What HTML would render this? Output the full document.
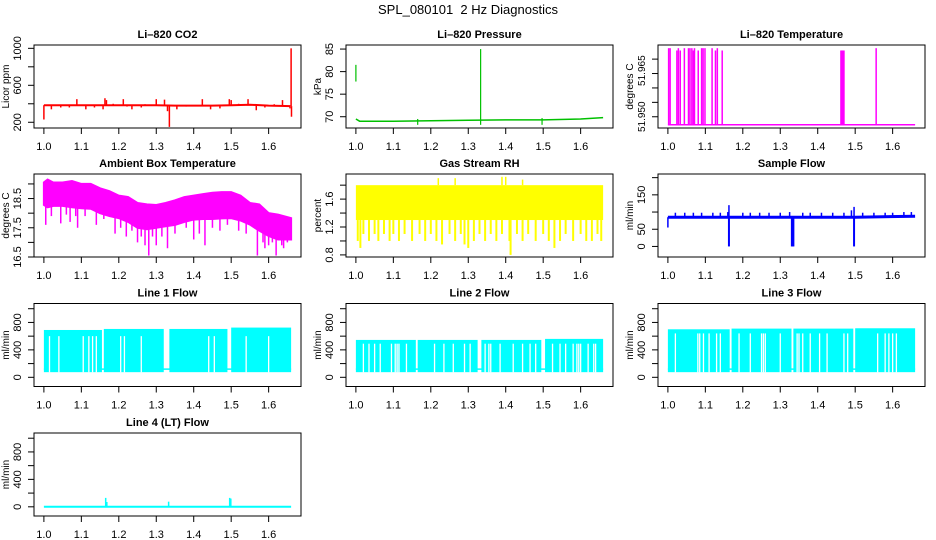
<!DOCTYPE html>
<html><head><meta charset="utf-8"><style>
html,body{margin:0;padding:0;background:#fff;}
svg{display:block;font-family:"Liberation Sans",Arial,sans-serif;}
</style></head><body>
<svg id="chart" width="936" height="540" viewBox="0 0 936 540" xmlns="http://www.w3.org/2000/svg">
<rect x="0" y="0" width="936" height="540" fill="#fff"/>
<text x="468" y="14" text-anchor="middle" font-size="13">SPL_080101&#160; 2 Hz Diagnostics</text>
</svg>
<script>
// ---------- data ----------
const xTicks = [1.0,1.1,1.2,1.3,1.4,1.5,1.6];
const xTickLabels = ["1.0","1.1","1.2","1.3","1.4","1.5","1.6"];

const co2BaseX = [1.0,1.05,1.1,1.15,1.2,1.25,1.3,1.35,1.4,1.45,1.5,1.55,1.6,1.658];
const co2BaseY = [385,385,385,385,385,385,385,380,380,380,385,390,380,375];
const co2SpikeX = [1.0,1.02,1.045,1.068,1.088,1.112,1.135,1.158,1.163,1.167,1.185,1.212,1.222,1.235,1.26,1.27,1.3,1.322,1.33,1.335,1.355,1.38,1.423,1.445,1.47,1.495,1.5,1.52,1.545,1.567,1.59,1.615,1.637,1.657,1.66,1.661];
const co2SpikeY = [230,340,360,360,450,340,360,340,460,440,400,450,370,340,360,395,450,445,320,150,340,370,450,340,350,450,440,400,450,330,360,395,440,350,1000,260];

const presBaseX = [1.0,1.01,1.1,1.2,1.3,1.4,1.5,1.6,1.66];
const presBaseY = [69.5,69.0,69.0,69.1,69.2,69.3,69.3,69.5,69.8];
const presSegX = [1.0,1.165,1.333,1.497];
const presSegLo = [77.8,68.2,68.2,68.2];
const presSegHi = [81.5,69.5,85.0,69.7];

const tempBase = 51.9472;
const tempSpikeX = [1.002,1.006,1.024,1.028,1.033,1.044,1.055,1.059,1.064,1.068,1.071,1.081,1.090,1.094,1.099,1.118,1.127,1.132,1.145,1.462,1.464,1.466,1.468,1.470,1.556];
const tempSpikeY = [51.9738,51.9738,51.973,51.9738,51.973,51.9738,51.9738,51.9738,51.9738,51.973,51.9738,51.973,51.9738,51.9738,51.9738,51.9738,51.973,51.9738,51.973,51.973,51.973,51.973,51.973,51.973,51.9738];

const ambX = [1.0,1.01,1.025,1.05,1.075,1.1,1.125,1.15,1.175,1.2,1.225,1.25,1.275,1.3,1.325,1.35,1.375,1.4,1.425,1.45,1.475,1.5,1.525,1.55,1.575,1.6,1.625,1.66];
const ambHi = [19.05,19.15,19.05,19.05,19.1,19.0,19.0,18.85,18.75,18.6,18.55,18.35,18.3,18.28,18.35,18.44,18.55,18.6,18.65,18.7,18.72,18.72,18.6,18.35,18.3,18.0,17.95,17.83];
const ambLo = [18.28,18.2,18.25,18.25,18.2,18.17,18.15,18.0,17.9,17.83,17.7,17.5,17.45,17.5,17.55,17.6,17.7,17.78,17.8,17.8,17.82,17.83,17.75,17.61,17.4,17.22,17.1,17.1];
const ambDipX = [1.005,1.02,1.045,1.06,1.07,1.085,1.09,1.11,1.14,1.16,1.19,1.205,1.22,1.235,1.25,1.26,1.27,1.28,1.29,1.3,1.315,1.33,1.35,1.38,1.4,1.415,1.43,1.45,1.47,1.49,1.52,1.54,1.57,1.585,1.59,1.6,1.61,1.62,1.635,1.64,1.65];
const ambDipY = [17.6,17.9,17.65,17.95,17.7,17.9,17.5,17.9,17.6,17.8,17.3,17.5,17.2,17.4,17.0,17.2,16.9,16.55,17.2,16.9,17.2,16.8,17.3,17.5,17.1,17.3,16.9,17.5,17.4,17.6,17.4,17.3,16.55,17.0,16.8,16.9,17.0,16.55,16.9,16.8,17.0];

const rhHi = 1.8;
const rhLo = 1.3;
const rhDipX = [1.005,1.012,1.02,1.035,1.05,1.06,1.075,1.09,1.1,1.115,1.13,1.15,1.17,1.185,1.2,1.215,1.23,1.25,1.265,1.28,1.29,1.3,1.315,1.33,1.345,1.36,1.375,1.39,1.41,1.413,1.43,1.445,1.46,1.48,1.5,1.515,1.53,1.545,1.56,1.58,1.6,1.615,1.63,1.645,1.655];
const rhDipY = [1.0,0.9,1.1,1.0,1.1,1.0,1.1,1.0,1.1,1.0,1.1,1.0,1.1,1.0,1.1,1.0,0.95,1.1,1.0,1.1,0.95,0.9,1.0,1.1,1.0,1.1,1.0,1.1,1.0,0.8,1.1,1.0,1.1,1.0,1.1,1.0,0.9,1.0,1.1,1.0,1.1,1.0,1.0,1.1,1.0];
const rhUpX = [1.22,1.265,1.39,1.4,1.445];
const rhUpY = [1.9,1.9,1.92,1.92,1.88];

const flowBaseX = [1.0,1.16,1.165,1.33,1.335,1.495,1.5,1.66];
const flowBaseY = [85,85,85,85,85,85,85,88];
const flowSpikeX = [1.0,1.02,1.045,1.068,1.09,1.12,1.14,1.16,1.163,1.2,1.22,1.245,1.27,1.3,1.325,1.333,1.36,1.38,1.41,1.44,1.47,1.49,1.497,1.52,1.55,1.58,1.6,1.63,1.65];
const flowSpikeY = [55,98,98,98,98,98,98,100,120,98,98,98,98,98,100,0,98,98,98,98,98,105,115,98,98,98,98,100,100];
const flowDropX = [1.163,1.331,1.333,1.335,1.497];
const flowDropY = [0,0,0,0,0];

const line1Start = [1.0,1.16,1.335,1.5];
const line1End = [1.155,1.32,1.49,1.66];
const line1Top = [690,705,705,725];
const line1Gaps = [1.015,1.04,1.105,1.12,1.13,1.14,1.205,1.215,1.26,1.44,1.455,1.54,1.6];
const line2Start = [1.0,1.165,1.335,1.505];
const line2End = [1.16,1.325,1.495,1.66];
const line2Top = [545,545,545,560];
const line2Gaps = [1.02,1.035,1.05,1.065,1.095,1.105,1.11,1.115,1.135,1.21,1.235,1.26,1.29,1.305,1.345,1.355,1.36,1.385,1.42,1.445,1.465,1.48,1.525,1.545,1.56,1.58,1.59,1.595,1.6,1.62,1.635,1.64];
const line3Start = [1.0,1.17,1.335,1.5];
const line3End = [1.165,1.33,1.495,1.66];
const line3Top = [700,710,710,715];
const line3Gaps = [1.02,1.08,1.085,1.095,1.11,1.13,1.14,1.19,1.22,1.25,1.255,1.26,1.3,1.345,1.35,1.36,1.38,1.405,1.425,1.47,1.48,1.56,1.58,1.59,1.6,1.61];
const line4SpikeX = [1.165,1.168,1.333,1.496,1.499];
const line4SpikeY = [130,70,75,130,120];

// ---------- layout ----------
const svg = document.getElementById('chart');
const NS = 'http://www.w3.org/2000/svg';
const colLeft = [34,346,658], rowTop = [45,174,303.5,433];
const BW = 267, BH = 83, XMIN = 0.9736, XMAX = 1.6864;

function el(tag, attrs, parent, name, inter) {
  const e = document.createElementNS(NS, tag);
  for (const k in attrs) e.setAttribute(k, attrs[k]);
  
  
  (parent || svg).appendChild(e);
  return e;
}

function panel(cfg) {
  const L = colLeft[cfg.col], T = rowTop[cfg.row];
  const g = el('g', {}, svg, cfg.id + '-panel', false);
  const sx = v => L + (v - XMIN) / (XMAX - XMIN) * BW;
  const sy = v => T + BH - (v - cfg.ymin) / (cfg.ymax - cfg.ymin) * BH;
  const clipId = 'clip-' + cfg.id;
  const defs = el('defs', {}, g, cfg.id + '-defs', false);
  const cp = el('clipPath', {id: clipId}, defs, cfg.id + '-clip', false);
  el('rect', {x: L, y: T, width: BW, height: BH}, cp, cfg.id + '-clip-rect', false);
  const plot = el('g', {'clip-path': 'url(#' + clipId + ')'}, g, cfg.id + '-plot-area', false);
  cfg.draw(plot, sx, sy);
  el('rect', {x: L, y: T, width: BW, height: BH, fill: 'none', stroke: '#000', 'stroke-width': 1}, g, cfg.id + '-frame', false);
  el('text', {x: L + BW / 2, y: T - 7, 'text-anchor': 'middle', 'font-size': 11, 'font-weight': 'bold'}, g, cfg.id + '-title', false).textContent = cfg.title;
  const xa = el('g', {}, g, cfg.id + '-x-axis', false);
  el('line', {x1: sx(xTicks[0]), x2: sx(xTicks[xTicks.length - 1]), y1: T + BH, y2: T + BH, stroke: '#000'}, xa, 'x-axis-line', false);
  xTicks.forEach((t, i) => {
    el('line', {x1: sx(t), x2: sx(t), y1: T + BH, y2: T + BH + 6, stroke: '#000'}, xa, 'x-tick', false);
    el('text', {x: sx(t), y: T + BH + 22, 'text-anchor': 'middle', 'font-size': 11}, xa, 'x-tick-label', false).textContent = xTickLabels[i];
  });
  const ya = el('g', {}, g, cfg.id + '-y-axis', false);
  el('line', {x1: L, x2: L, y1: sy(cfg.yticks[0]), y2: sy(cfg.yticks[cfg.yticks.length - 1]), stroke: '#000'}, ya, 'y-axis-line', false);
  cfg.yticks.forEach(t => {
    el('line', {x1: L - 6, x2: L, y1: sy(t), y2: sy(t), stroke: '#000'}, ya, 'y-tick', false);
  });
  const fs = cfg.labelSize || 11;
  cfg.ylabelVals.forEach((t, i) => {
    const yy = sy(t), xx = L - 13;
    el('text', {x: xx, y: yy, 'text-anchor': 'middle', 'font-size': fs, transform: 'rotate(-90 ' + xx + ' ' + yy + ')'}, ya, 'y-tick-label', false).textContent = cfg.ylabelText[i];
  });
  const yx = L - 25, yy = T + BH / 2;
  el('text', {x: yx, y: yy, 'text-anchor': 'middle', 'font-size': 10, transform: 'rotate(-90 ' + yx + ' ' + yy + ')'}, g, cfg.id + '-y-axis-title', false).textContent = cfg.ylab;
}

function polyline(parent, xs, ys, sx, sy, color, name, w) {
  const pts = xs.map((x, i) => sx(x).toFixed(1) + ',' + sy(ys[i]).toFixed(1)).join(' ');
  el('polyline', {points: pts, fill: 'none', stroke: color, 'stroke-width': w || 1.5}, parent, name, false);
}
function seg(parent, x, y0, y1, sx, sy, color, name, w) {
  el('line', {x1: sx(x), x2: sx(x), y1: sy(y0), y2: sy(y1), stroke: color, 'stroke-width': w || 1.5}, parent, name, false);
}
function baseAt(xs, ys, x) {
  for (let i = 0; i < xs.length - 1; i++) if (x >= xs[i] && x <= xs[i + 1]) return ys[i] + (ys[i + 1] - ys[i]) * (x - xs[i]) / (xs[i + 1] - xs[i]);
  return ys[ys.length - 1];
}

panel({id: 'co2', col: 0, row: 0, title: 'Li–820 CO2', ylab: 'Licor ppm', ymin: 138, ymax: 1036,
  yticks: [200,400,600,800,1000], ylabelVals: [200,600,1000], ylabelText: ['200','600','1000'],
  draw: (p, sx, sy) => {
    polyline(p, co2BaseX, co2BaseY, sx, sy, '#ff0000', 'co2-line', 2);
    co2SpikeX.forEach((x, i) => seg(p, x, baseAt(co2BaseX, co2BaseY, x), co2SpikeY[i], sx, sy, '#ff0000', 'co2-spike', 1.5));
  }});

panel({id: 'pressure', col: 1, row: 0, title: 'Li–820 Pressure', ylab: 'kPa', ymin: 67.5, ymax: 85.9,
  yticks: [70,75,80,85], ylabelVals: [70,75,80,85], ylabelText: ['70','75','80','85'],
  draw: (p, sx, sy) => {
    polyline(p, presBaseX, presBaseY, sx, sy, '#00c000', 'pressure-line', 1.5);
    presSegX.forEach((x, i) => seg(p, x, presSegLo[i], presSegHi[i], sx, sy, '#00c000', 'pressure-spike', 1.2));
  }});

panel({id: 'licor-temp', col: 2, row: 0, title: 'Li–820 Temperature', ylab: 'degrees C', ymin: 51.9461, ymax: 51.9749, labelSize: 10,
  yticks: [51.950,51.955,51.960,51.965,51.970], ylabelVals: [51.950,51.966], ylabelText: ['51.950','51.965'],
  draw: (p, sx, sy) => {
    polyline(p, [1.0,1.66], [tempBase,tempBase], sx, sy, '#ff00ff', 'temp-line', 1.5);
    tempSpikeX.forEach((x, i) => seg(p, x, tempBase, tempSpikeY[i], sx, sy, '#ff00ff', 'temp-spike', 1.5));
  }});

panel({id: 'ambient', col: 0, row: 1, title: 'Ambient Box Temperature', ylab: 'degrees C', ymin: 16.5, ymax: 19.34,
  yticks: [16.5,17.0,17.5,18.0,18.5,19.0], ylabelVals: [16.5,17.5,18.5], ylabelText: ['16.5','17.5','18.5'],
  draw: (p, sx, sy) => {
    const pts = ambX.map((x, i) => sx(x) + ',' + sy(ambHi[i])).concat(ambX.slice().reverse().map((x, i) => sx(x) + ',' + sy(ambLo[ambX.length - 1 - i]))).join(' ');
    el('polygon', {points: pts, fill: '#ff00ff', stroke: '#ff00ff', 'stroke-width': 2}, p, 'ambient-band', false);
    ambDipX.forEach((x, i) => seg(p, x, baseAt(ambX, ambLo, x), ambDipY[i], sx, sy, '#ff00ff', 'ambient-dip', 1.5));
  }});

panel({id: 'rh', col: 1, row: 1, title: 'Gas Stream RH', ylab: 'percent', ymin: 0.77, ymax: 1.96,
  yticks: [0.8,1.0,1.2,1.4,1.6,1.8], ylabelVals: [0.8,1.2,1.6], ylabelText: ['0.8','1.2','1.6'],
  draw: (p, sx, sy) => {
    el('rect', {x: sx(1.0), y: sy(rhHi), width: sx(1.66) - sx(1.0), height: sy(rhLo) - sy(rhHi), fill: '#ffff00'}, p, 'rh-band', false);
    rhDipX.forEach((x, i) => seg(p, x, rhLo, rhDipY[i], sx, sy, '#ffff00', 'rh-dip', 2));
    rhUpX.forEach((x, i) => seg(p, x, rhHi, rhUpY[i], sx, sy, '#ffff00', 'rh-up-spike', 1.5));
  }});

panel({id: 'sample-flow', col: 2, row: 1, title: 'Sample Flow', ylab: 'ml/min', ymin: -30.7, ymax: 210.6,
  yticks: [0,50,100,150,200], ylabelVals: [0,50,150], ylabelText: ['0','50','150'],
  draw: (p, sx, sy) => {
    polyline(p, flowBaseX, flowBaseY, sx, sy, '#0000ff', 'sample-flow-line', 3);
    flowSpikeX.forEach((x, i) => seg(p, x, baseAt(flowBaseX, flowBaseY, x), flowSpikeY[i], sx, sy, '#0000ff', 'sample-flow-spike', 1.5));
    flowDropX.forEach((x, i) => seg(p, x, baseAt(flowBaseX, flowBaseY, x), flowDropY[i], sx, sy, '#0000ff', 'sample-flow-drop', 2));
  }});

function linePanel(id, col, row, title, starts, ends, tops, gaps, gapTop) {
  panel({id: id, col: col, row: row, title: title, ylab: 'ml/min', ymin: -134, ymax: 1076,
    yticks: [0,200,400,600,800,1000], ylabelVals: [0,400,800], ylabelText: ['0','400','800'],
    draw: (p, sx, sy) => {
      el('line', {x1: sx(1.0), x2: sx(1.66), y1: sy(120), y2: sy(120), stroke: '#00ffff', 'stroke-width': 1.5}, p, id + '-base-line', false);
      starts.forEach((s, i) => {
        el('rect', {x: sx(s), y: sy(tops[i]), width: sx(ends[i]) - sx(s), height: sy(75) - sy(tops[i]), fill: '#00ffff'}, p, id + '-block', false);
      });
      gaps.forEach(x => seg(p, x, 72, gapTop, sx, sy, '#ffffff', id + '-gap', 1.3));
    }});
}
linePanel('line1', 0, 2, 'Line 1 Flow', line1Start, line1End, line1Top, line1Gaps, 600);
linePanel('line2', 1, 2, 'Line 2 Flow', line2Start, line2End, line2Top, line2Gaps, 490);
linePanel('line3', 2, 2, 'Line 3 Flow', line3Start, line3End, line3Top, line3Gaps, 640);

panel({id: 'line4', col: 0, row: 3, title: 'Line 4 (LT) Flow', ylab: 'ml/min', ymin: -134, ymax: 1076,
  yticks: [0,200,400,600,800,1000], ylabelVals: [0,400,800], ylabelText: ['0','400','800'],
  draw: (p, sx, sy) => {
    el('line', {x1: sx(1.0), x2: sx(1.66), y1: sy(0), y2: sy(0), stroke: '#00ffff', 'stroke-width': 2}, p, 'line4-base', false);
    line4SpikeX.forEach((x, i) => seg(p, x, 0, line4SpikeY[i], sx, sy, '#00ffff', 'line4-spike', 1.5));
  }});
</script>
</body></html>
